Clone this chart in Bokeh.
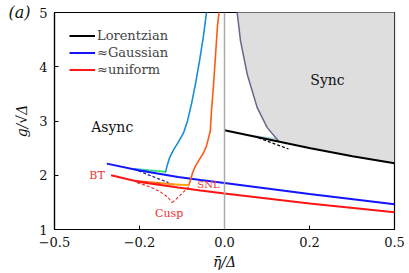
import numpy as np
from bokeh.plotting import figure
from bokeh.models import Range1d, FixedTicker, Label, Legend, LegendItem, Span, LinearAxis
from bokeh.embed import file_html
from bokeh.resources import INLINE

# ---------------- data (eta, g) ----------------
x_ticks = [-0.5, -0.2, 0.0, 0.2, 0.5]
x_tick_labels = ["\u22120.5", "\u22120.2", "0.0", "0.2", "0.5"]
y_ticks = [1, 2, 3, 4, 5]

lor_eta = [0.0, 0.0921, 0.2028, 0.3351, 0.5]
lor_g = [2.830, 2.664, 2.498, 2.352, 2.221]

lor_dash_eta = [0.0714, 0.1435]
lor_dash_g = [2.688, 2.485]

sync_eta = [0.024, 0.0255, 0.0324, 0.0466, 0.0685, 0.0914, 0.1184]
sync_g = [5.2, 5.0, 4.478, 3.863, 3.247, 2.878, 2.633]

wedge_eta = [0.0537, 0.110, 0.1184, 0.0537]
wedge_g = [2.745, 2.69, 2.633, 2.725]

gau_eta = [-0.30, -0.2, -0.1, -0.0494, 0.0, 0.2, 0.5]
gau_g = [2.214, 2.089, 1.969, 1.913, 1.858, 1.655, 1.465]

uni_eta = [-0.286, -0.2, -0.1, -0.0494, 0.0, 0.2, 0.5]
uni_g = [2.0, 1.876, 1.775, 1.720, 1.664, 1.480, 1.317]

green_eta = [-0.2172, -0.1944, -0.1724, -0.1512, -0.1308]
green_g = [2.116, 2.101, 2.089, 2.077, 2.066]
green_cols = ["#2aa8c8", "#2cc0a8", "#30d888", "#38e868"]

gdash_eta = [-0.2028, -0.1233]
gdash_g = [2.079, 1.863]

cyan_eta = [-0.1308, -0.1270, -0.1209, -0.1111, -0.0991, -0.0874, -0.0782,
            -0.0692, -0.0603, -0.0515, -0.0430, -0.0366, -0.034]
cyan_g = [2.048, 2.172, 2.319, 2.467, 2.614, 2.780, 3.002, 3.315, 3.685,
          4.109, 4.570, 5.0, 5.2]

orh_eta = [-0.2114, -0.1751, -0.1409, -0.1063, -0.0753]
orh_g = [1.895, 1.873, 1.851, 1.830, 1.815]
orh_cols = ["#ff4020", "#ff6a18", "#ff8c10", "#ffa510"]

orc_eta = [-0.0753, -0.0714, -0.0669, -0.0603, -0.0537, -0.0430, -0.0366,
           -0.0286, -0.0262, -0.0221, -0.0180, -0.0139, -0.0109, -0.010]
orc_g = [1.815, 1.913, 2.042, 2.172, 2.264, 2.411, 2.541, 2.817, 3.186,
         3.648, 4.2, 4.755, 5.0, 5.2]

cusp1_eta = [-0.2065, -0.1697, -0.1435, -0.1258, -0.1143]
cusp1_g = [1.863, 1.784, 1.692, 1.600, 1.494]
cusp2_eta = [-0.1143, -0.0944, -0.0753]
cusp2_g = [1.494, 1.637, 1.784]


def tr(a):
    a = np.asarray(a, dtype=float)
    return a / (1 + np.abs(a))


FONT = "DejaVu Serif"

p = figure(width=409, height=273, output_backend="svg", toolbar_location=None,
           x_range=Range1d(float(tr(-0.5)), float(tr(0.5))), y_range=Range1d(1, 5),
           min_border_left=54, min_border_right=15, min_border_top=12,
           min_border_bottom=44)
p.xgrid.visible = False
p.ygrid.visible = False
p.outline_line_color = "black"
p.outline_line_width = 1.2
p.background_fill_color = "white"

# sync region
poly_eta = list(sync_eta) + [e for e in lor_eta if e > sync_eta[-1]] + [0.5, 0.5]
poly_g = list(sync_g) + [g for e, g in zip(lor_eta, lor_g) if e > sync_eta[-1]] + [lor_g[-1], 5.2]
p.patch(tr(poly_eta), poly_g, fill_color="#dedede", line_alpha=0)
p.patch(tr(wedge_eta), wedge_g, fill_color="#b4d4da", line_alpha=0)

p.add_layout(Span(location=0, dimension="height", line_color="#aaaaaa", line_width=1.5))

p.line(tr(sync_eta), sync_g, line_color="#66668a", line_width=1.5)
p.line(tr(lor_dash_eta), lor_dash_g, line_color="black", line_width=1.2, line_dash="3 2")
r_lor = p.line(tr(lor_eta), lor_g, line_color="black", line_width=2)

p.line(tr(gdash_eta), gdash_g, line_color="#1a1aa8", line_width=1.2, line_dash="3 2")
p.segment(tr(green_eta[:-1]), green_g[:-1], tr(green_eta[1:]), green_g[1:],
          line_color=green_cols, line_width=2)
r_gau = p.line(tr(gau_eta), gau_g, line_color="#1414ff", line_width=2)
p.line(tr(cyan_eta), cyan_g, line_color="#1a8ed4", line_width=1.6)

p.line(tr(cusp1_eta), cusp1_g, line_color="#f02828", line_width=1.1, line_dash="3 2")
p.line(tr(cusp2_eta), cusp2_g, line_color="#f02828", line_width=1.1, line_dash="3 2")
p.segment(tr(orh_eta[:-1]), orh_g[:-1], tr(orh_eta[1:]), orh_g[1:],
          line_color=orh_cols, line_width=2)
r_uni = p.line(tr(uni_eta), uni_g, line_color="#ff1414", line_width=2)
p.line(tr(orc_eta), orc_g, line_color="#ff5a14", line_width=1.6)

# labels
def lab(x, y, t, size, color, style="normal"):
    p.add_layout(Label(x=float(tr(x)), y=y, text=t, text_font=FONT, text_font_size=size,
                       text_color=color, text_align="center", text_baseline="middle",
                       text_font_style=style))

lab(-0.2824, 2.887, "Async", "14px", "#111111")
lab(0.2531, 3.755, "Sync", "14px", "#111111")
lab(-0.3333, 1.987, "BT", "11px", "#f03030")
lab(-0.0324, 1.830, "SNL", "10px", "#f03030")
lab(-0.1216, 1.304, "Cusp", "11px", "#f03030")

# legend
leg = Legend(items=[LegendItem(label="Lorentzian", renderers=[r_lor]),
                    LegendItem(label="\u2248Gaussian", renderers=[r_gau]),
                    LegendItem(label="\u2248uniform", renderers=[r_uni])],
             location="top_left", margin=5, padding=10, spacing=0,
             glyph_width=26, glyph_height=17, label_height=17, label_standoff=2,
             label_text_font=FONT, label_text_font_size="13px",
             border_line_alpha=0, background_fill_alpha=0)
p.add_layout(leg)

# axes
p.xaxis.ticker = FixedTicker(ticks=[float(v) for v in tr(x_ticks)])
p.xaxis.major_label_overrides = {float(v): s for v, s in zip(tr(x_ticks), x_tick_labels)}
p.yaxis.ticker = FixedTicker(ticks=y_ticks)
for ax in (p.xaxis, p.yaxis):
    ax.major_tick_in = 4
    ax.major_tick_out = 0
    ax.minor_tick_line_color = None
    ax.axis_line_color = "black"
    ax.axis_line_width = 1.2
    ax.major_tick_line_color = "black"
    ax.major_label_text_font = FONT
    ax.major_label_text_font_size = "13px"
    ax.major_label_text_color = "#111111"
    ax.axis_label_text_font = FONT
    ax.axis_label_text_font_size = "14px"
    ax.axis_label_text_font_style = "italic"
    ax.axis_label_text_color = "#111111"
p.xaxis.axis_label = "\u03b7\u0304/\u0394"
p.yaxis.axis_label = "g/\u221a\u0394"
p.xaxis.major_label_standoff = 7
p.yaxis.major_label_standoff = 7
p.xaxis.axis_label_standoff = 4
p.yaxis.axis_label_standoff = 6

# panel tag "(a)" as an outer, line-less left axis
tag_axis = LinearAxis(ticker=FixedTicker(ticks=[5]), major_label_overrides={5: "(a)"},
                      axis_line_color=None, major_tick_line_color=None,
                      minor_tick_line_color=None, major_tick_in=0, major_tick_out=0,
                      major_label_standoff=-19, major_label_text_font=FONT,
                      major_label_text_font_size="16px",
                      major_label_text_font_style="italic",
                      major_label_text_color="#111111")
p.add_layout(tag_axis, "left")

open("out.html", "w").write(file_html(p, INLINE))
